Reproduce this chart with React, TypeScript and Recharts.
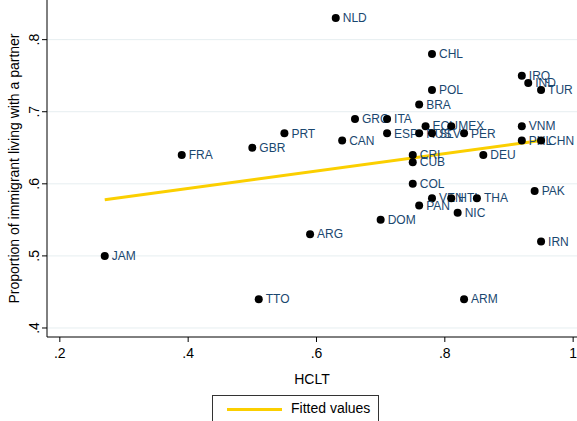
import React from 'react';
import { ScatterChart, Scatter, XAxis, YAxis, CartesianGrid } from 'recharts';

// country codes, HCLT and share living with a partner
const countries = [
  'NLD', 'CHL', 'IRQ', 'IND', 'TUR', 'POL', 'BRA', 'GRC', 'ITA', 'ECU',
  'MEX', 'VNM', 'ESP', 'RUS', 'SLV', 'PER', 'PRT', 'CAN', 'FRA', 'GBR',
  'PHL', 'CHN', 'DEU', 'CRI', 'CUB', 'COL', 'VEN', 'HTI', 'THA', 'PAK',
  'PAN', 'NIC', 'DOM', 'ARG', 'IRN', 'JAM', 'TTO', 'ARM',
];
const hclt = [
  0.63, 0.78, 0.92, 0.93, 0.95, 0.78, 0.76, 0.66, 0.71, 0.77,
  0.81, 0.92, 0.71, 0.76, 0.78, 0.83, 0.55, 0.64, 0.39, 0.5,
  0.92, 0.95, 0.86, 0.75, 0.75, 0.75, 0.78, 0.81, 0.85, 0.94,
  0.76, 0.82, 0.7, 0.59, 0.95, 0.27, 0.51, 0.83,
];
const partner = [
  0.83, 0.78, 0.75, 0.74, 0.73, 0.73, 0.71, 0.69, 0.69, 0.68,
  0.68, 0.68, 0.67, 0.67, 0.67, 0.67, 0.67, 0.66, 0.64, 0.65,
  0.66, 0.66, 0.64, 0.64, 0.63, 0.6, 0.58, 0.58, 0.58, 0.59,
  0.57, 0.56, 0.55, 0.53, 0.52, 0.5, 0.44, 0.44,
];

// fitted line end points
const fitX = [0.27, 0.95];
const fitY = [0.578, 0.66];

const xTicks = [0.2, 0.4, 0.6, 0.8, 1];
const yTicks = [0.4, 0.5, 0.6, 0.7, 0.8];

const points = countries.map((c, i) => ({ name: c, x: hclt[i], y: partner[i] }));
const fit = fitX.map((x, i) => ({ x, y: fitY[i] }));

const FONT = '"Liberation Sans", Arial, sans-serif';
const LABEL = '#1a476f';
const FIT = '#fbcf00';

const fmt = (v: number) => (v === 1 ? '1' : String(v).replace(/^0/, ''));

const Dot = (props: any) => {
  const { cx, cy, payload } = props;
  return (
    <g>
      <circle cx={cx} cy={cy} r={4} fill="#000" />
      <text x={cx + 7} y={cy} dy="0.35em" fontSize={12} fill={LABEL} fontFamily={FONT}>
        {payload.name}
      </text>
    </g>
  );
};

const YTick = (props: any) => {
  const { x, y, payload } = props;
  return (
    <text
      x={x - 1}
      y={y}
      transform={`rotate(-90, ${x - 1}, ${y})`}
      textAnchor="middle"
      fontSize={14}
      fill="#000"
      fontFamily={FONT}
    >
      {fmt(payload.value)}
    </text>
  );
};

const App = () => {
  return (
    <div style={{ position: 'relative', width: 577, height: 421, background: '#fff' }}>
      <style>{`body{margin:0}`}</style>
      <ScatterChart width={577} height={421} margin={{ top: 0, right: 0, bottom: 0, left: 0 }}>
        <CartesianGrid vertical={false} stroke="#e6eef0" horizontalValues={yTicks} />
        <XAxis
          type="number"
          dataKey="x"
          domain={[0.18, 1.006]}
          ticks={xTicks}
          tickFormatter={fmt}
          height={84}
          tickSize={5}
          stroke="#000"
          tick={{ fill: '#000', fontSize: 14, fontFamily: FONT, dy: 4 }}
          allowDataOverflow
          label={{ value: 'HCLT', position: 'insideTop', offset: 37, fill: '#000', fontSize: 14, fontFamily: FONT }}
        />
        <YAxis
          type="number"
          dataKey="y"
          domain={[0.3875, 0.855]}
          ticks={yTicks}
          width={47}
          tickSize={5}
          stroke="#000"
          tick={<YTick />}
          allowDataOverflow
          label={{
            value: 'Proportion of immigrant living with a partner',
            angle: -90,
            position: 'insideLeft',
            offset: 14,
            fill: '#000',
            fontSize: 14,
            fontFamily: FONT,
            style: { textAnchor: 'middle' },
          }}
        />
        <Scatter data={fit} line={{ stroke: FIT, strokeWidth: 3 }} shape={() => <g />} isAnimationActive={false} />
        <Scatter data={points} shape={<Dot />} isAnimationActive={false} />
      </ScatterChart>
      <div
        style={{
          position: 'absolute',
          left: 212,
          top: 395,
          width: 167,
          height: 40,
          border: '1px solid #333',
          boxSizing: 'border-box',
          fontFamily: FONT,
          fontSize: 14,
        }}
      >
        <div style={{ position: 'absolute', left: 14, top: 12, width: 55, height: 3, background: FIT }} />
        <div style={{ position: 'absolute', left: 78, top: 4, color: '#000' }}>Fitted values</div>
      </div>
    </div>
  );
};

export default App;
